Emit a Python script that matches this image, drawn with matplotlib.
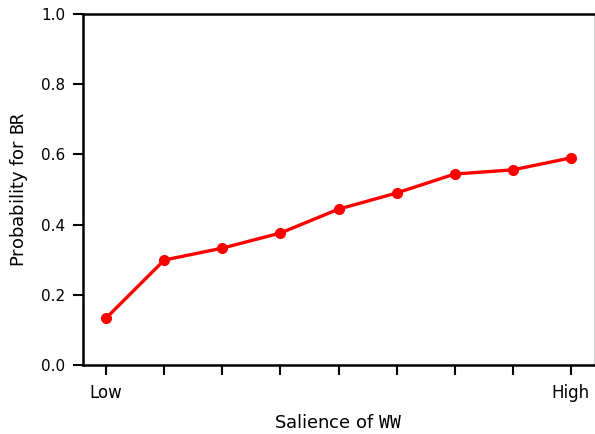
import numpy as np
import matplotlib
matplotlib.use("Agg")
import matplotlib.pyplot as plt

# salience levels (Low .. High) and probability for BR
levels = np.arange(9)
prob_br = [0.134, 0.299, 0.333, 0.376, 0.444, 0.490, 0.544, 0.556, 0.590]
tick_labels = ["Low", "", "", "", "", "", "", "", "High"]

plt.rcParams.update({
    "font.family": "DejaVu Sans",
    "font.size": 11,
    "mathtext.fontset": "custom",
    "mathtext.tt": "DejaVu Sans Mono",
    "mathtext.rm": "DejaVu Sans",
})

fig = plt.figure(figsize=(5.95, 4.34), dpi=100)
ax = fig.add_axes([83 / 595, 1 - 365 / 434, (594 - 83) / 595, (365 - 14) / 434])

ax.plot(levels, prob_br, color="#ff0000", linewidth=2.4, marker="o", markersize=7)

ax.set_xlim(-0.4, 8.4)
ax.set_ylim(0, 1.0)
ax.set_xticks(levels)
ax.set_xticklabels(tick_labels, fontsize=12)
ax.set_yticks(np.arange(0, 1.01, 0.2))
ax.set_yticklabels([f"{v:.1f}" for v in np.arange(0, 1.01, 0.2)], fontsize=11)

for side in ["left", "bottom", "top"]:
    ax.spines[side].set_linewidth(1.8)
    ax.spines[side].set_color("black")
ax.spines["right"].set_color("#cccccc")
ax.spines["right"].set_linewidth(0.8)

ax.tick_params(direction="out", length=7, width=1.5, pad=6)
ax.tick_params(axis="x", pad=7)

ax.set_xlabel(r"Salience of $\mathtt{WW}$", fontsize=13, labelpad=8)
ax.set_ylabel(r"Probability for $\mathtt{BR}$", fontsize=13, labelpad=8)

fig.savefig("out.png", dpi=100)
